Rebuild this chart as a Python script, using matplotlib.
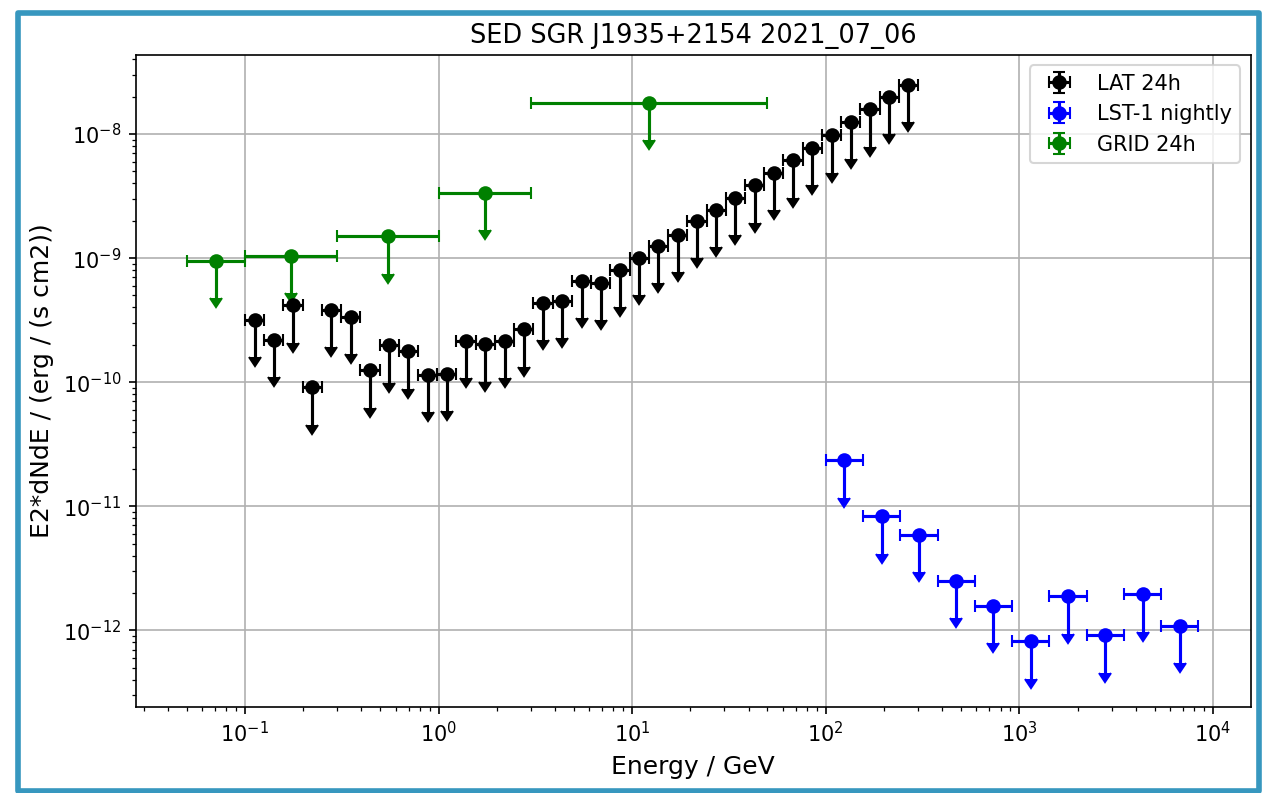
import numpy as np
import matplotlib
matplotlib.use("Agg")
import matplotlib.pyplot as plt
from matplotlib.patches import Rectangle


# Fermi-LAT 24h upper limits (energy bin edges in GeV, E2*dN/dE in erg / (s cm2))
lat_edges = [0.1, 0.1257, 0.1580, 0.1987, 0.2497, 0.3138, 0.3946, 0.4960, 0.6234,
             0.7836, 0.9849, 1.238, 1.556, 1.957, 2.459, 3.092, 3.886, 4.885,
             6.140, 7.718, 9.701, 12.19, 15.33, 19.27, 24.22, 30.44, 38.27,
             48.10, 60.47, 76.01, 95.54, 120.1, 150.9, 189.8, 238.5, 300.0]
lat_ul = [3.2e-10, 2.2e-10, 4.16e-10, 9.06e-11, 3.81e-10, 3.37e-10, 1.25e-10,
          1.98e-10, 1.77e-10, 1.15e-10, 1.17e-10, 2.15e-10, 2.02e-10, 2.15e-10,
          2.66e-10, 4.37e-10, 4.53e-10, 6.56e-10, 6.32e-10, 8.0e-10, 1.01e-9,
          1.26e-9, 1.54e-9, 2.0e-9, 2.44e-9, 3.08e-9, 3.85e-9, 4.87e-9, 6.16e-9,
          7.7e-9, 9.76e-9, 1.25e-8, 1.58e-8, 2.0e-8, 2.5e-8]

# LST-1 nightly upper limits
lst_edges = [100, 155.8, 242.7, 378.1, 589, 917.6, 1429.5, 2227, 3470, 5405, 8420]
lst_ul = [2.35e-11, 8.3e-12, 5.9e-12, 2.49e-12, 1.57e-12, 8.15e-13, 1.88e-12,
          9.1e-13, 1.95e-12, 1.08e-12]

# AGILE GRID 24h upper limits
grid_edges = [0.05, 0.1, 0.3, 1, 3, 50]
grid_ul = [9.5e-10, 1.04e-9, 1.50e-9, 3.36e-9, 1.79e-8]

datasets = [
    ("LAT 24h", lat_edges, lat_ul, "black"),
    ("LST-1 nightly", lst_edges, lst_ul, "blue"),
    ("GRID 24h", grid_edges, grid_ul, "green"),
]

fig = plt.figure(figsize=(1267 / 150, 793 / 150), dpi=150)
ax = fig.add_axes([0.1073, 0.1088, 0.8798, 0.8218])

for label, edges, ul, color in datasets:
    edges = np.array(edges, dtype=float)
    ul = np.array(ul)
    e_lo, e_hi = edges[:-1], edges[1:]
    e_ref = np.sqrt(e_lo * e_hi)
    xerr = [e_ref - e_lo, e_hi - e_ref]
    # upper limits: arrow down to half the value
    ax.errorbar(e_ref, ul, xerr=xerr, yerr=0.5 * ul, uplims=True,
                fmt="o", color=color, ms=6, capsize=3, label=label)

ax.set_xscale("log")
ax.set_yscale("log")
ax.set_xlim(10 ** -1.563, 10 ** 4.195)
ax.set_ylim(10 ** -12.616, 10 ** -7.363)
ax.grid(True, which="major")
ax.tick_params(labelsize=10)

ax.set_xlabel("Energy / GeV", fontsize=12)
ax.set_ylabel("E2*dNdE / (erg / (s cm2))", fontsize=12)
ax.set_title("SED SGR J1935+2154 2021_07_06", fontsize=12.3)
ax.legend(loc="upper right", fontsize=10)

# blue frame around the whole picture
frame = Rectangle((0.0142, 0.00315), 0.9795, 0.97985, transform=fig.transFigure,
                  fill=False, edgecolor="#3797bf", linewidth=2.7,
                  joinstyle="round", zorder=10)
fig.patches.append(frame)

fig.savefig("out.png", dpi=150)
